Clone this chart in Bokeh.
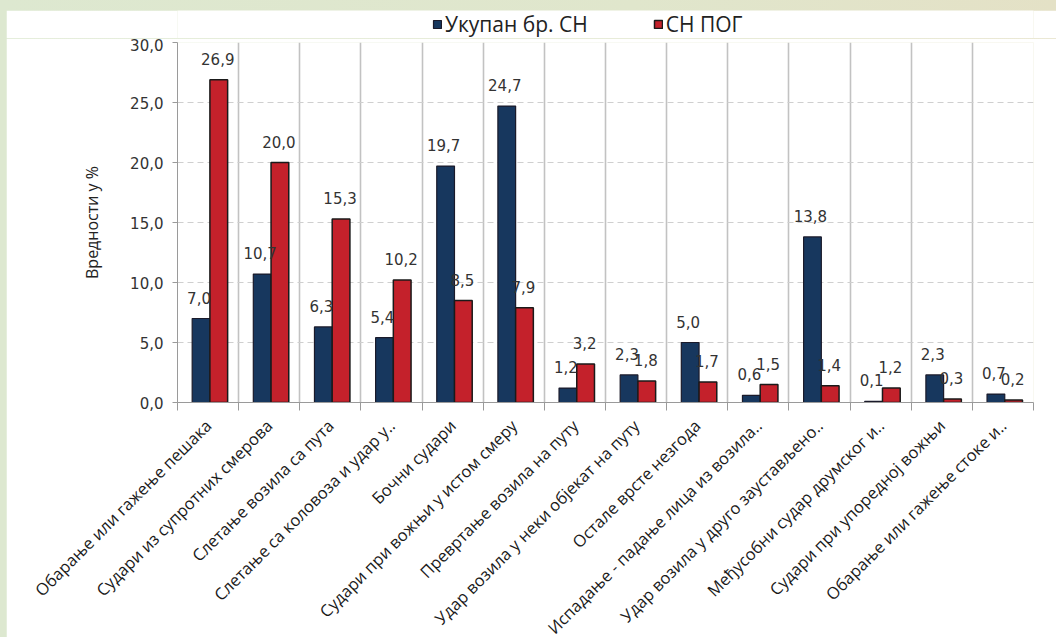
import numpy as np
from bokeh.plotting import figure
from bokeh.models import (ColumnDataSource, Range1d, FixedTicker, CustomJSTickFormatter,
                          Legend, LegendItem)
from bokeh.layouts import column
from bokeh.core.properties import value
from bokeh.embed import file_html
from bokeh.resources import INLINE

categories = [
    "Обарање или гажење пешака",
    "Судари из супротних смерова",
    "Слетање возила са пута",
    "Слетање са коловоза и удар у..",
    "Бочни судари",
    "Судари при вожњи у истом смеру",
    "Превртање возила на путу",
    "Удар возила у неки објекат на путу",
    "Остале врсте незгода",
    "Испадање - падање лица из возила..",
    "Удар возила у друго заустављено..",
    "Међусобни судар друмског и..",
    "Судари при упоредној вожњи",
    "Обарање или гажење стоке и..",
]
total_sn = [7.0, 10.7, 6.3, 5.4, 19.7, 24.7, 1.2, 2.3, 5.0, 0.6, 13.8, 0.1, 2.3, 0.7]
sn_pog = [26.9, 20.0, 15.3, 10.2, 8.5, 7.9, 3.2, 1.8, 1.7, 1.5, 1.4, 1.2, 0.3, 0.2]
series_names = ["Укупан бр. СН", "СН ПОГ"]
y_ticks = [0, 5, 10, 15, 20, 25, 30]

NAVY = "#17375e"
RED = "#c4212b"
n = len(categories)
centers = np.arange(n) + 0.5
bw = 0.29
shift = 0.03

def fmt(v):
    return f"{v:.1f}".replace(".", ",")

src_a = ColumnDataSource(dict(x=centers - bw / 2 + shift, top=total_sn,
                              lab=[fmt(v) for v in total_sn]))
src_b = ColumnDataSource(dict(x=centers + bw / 2 + shift, top=sn_pog,
                              lab=[fmt(v) for v in sn_pog]))

# ---- main chart ----
p = figure(frame_width=856, frame_height=360, output_backend="svg", toolbar_location=None,
           x_range=Range1d(0, n), y_range=Range1d(0, 30),
           min_border_left=171, min_border_right=23, min_border_top=4,
           min_border_bottom=235, background_fill_color="white",
           border_fill_color="white", outline_line_color=None,
           margin=(0, 0, 0, 6))

bar_a = dict(fill_color=NAVY, line_color="#1a1a2a", line_width=1.2)
bar_b = dict(fill_color=RED, line_color="#1a1a1a", line_width=1.5)
p.vbar(x="x", top="top", width=bw, source=src_a, **bar_a)
p.vbar(x="x", top="top", width=bw, source=src_b, **bar_b)

lab_font = value("DejaVu Sans")
p.text(x="x", y="top", text="lab", source=src_a, text_align="center",
       text_baseline="bottom", y_offset=-15, x_offset=-2, text_font=lab_font,
       text_font_size="15px", text_color="#333333")
p.text(x="x", y="top", text="lab", source=src_b, text_align="center",
       text_baseline="bottom", y_offset=-15, x_offset=-1, text_font=lab_font,
       text_font_size="15px", text_color="#333333")

xt = FixedTicker(ticks=list(centers), minor_ticks=list(range(n + 1)))
p.xaxis.ticker = xt
p.xgrid.ticker = xt
p.xgrid.grid_line_color = None
p.xgrid.minor_grid_line_color = "#c2c2c2"
p.xgrid.minor_grid_line_width = 1.6
p.xaxis.formatter = CustomJSTickFormatter(args=dict(labels=categories),
                                          code="return labels[Math.round(tick - 0.5)]")
p.xaxis.major_tick_out = 0
p.xaxis.major_tick_in = 0
p.xaxis.minor_tick_out = 8
p.xaxis.minor_tick_in = 0
p.xaxis.minor_tick_line_color = "#9a9a9a"
p.xaxis.axis_line_color = "#9a9a9a"
p.xaxis.major_label_orientation = np.pi / 4
p.xaxis.major_label_standoff = 12
p.xaxis.major_label_text_font = "Open Sans"
p.xaxis.major_label_text_font_size = "16.5px"
p.xaxis.major_label_text_color = "#1a1a1a"

p.yaxis.ticker = FixedTicker(ticks=y_ticks)
p.ygrid.ticker = FixedTicker(ticks=y_ticks)
p.yaxis.formatter = CustomJSTickFormatter(code="return tick.toFixed(1).replace('.', ',')")
p.ygrid.grid_line_color = "#cfcfcf"
p.ygrid.grid_line_dash = "6 4"
p.ygrid.grid_line_width = 1
p.yaxis.axis_line_color = "#9a9a9a"
p.yaxis.major_tick_line_color = "#9a9a9a"
p.yaxis.major_tick_out = 5
p.yaxis.major_tick_in = 0
p.yaxis.minor_tick_line_color = None
p.yaxis.major_label_standoff = 9
p.yaxis.major_label_text_font = "DejaVu Sans"
p.yaxis.major_label_text_font_size = "15px"
p.yaxis.major_label_text_color = "#333333"
p.yaxis.axis_label = "Вредности у %"
p.yaxis.axis_label_text_font = "Open Sans"
p.yaxis.axis_label_text_font_style = "normal"
p.yaxis.axis_label_text_font_size = "16px"
p.yaxis.axis_label_text_color = "#222222"
p.yaxis.axis_label_standoff = 24

# ---- legend strip above the chart (its renderers are hidden; only swatches show) ----
lg = figure(width=1050, height=28, output_backend="svg", toolbar_location=None,
            x_axis_type=None, y_axis_type=None,
            x_range=Range1d(0, n), y_range=Range1d(0, 30),
            min_border_left=0, min_border_right=0, min_border_top=0, min_border_bottom=0,
            background_fill_color="white", border_fill_color="white",
            outline_line_color=None, margin=(10, 0, 0, 6))
lg.xgrid.visible = False
lg.ygrid.visible = False
la = lg.vbar(x="x", top="top", width=bw, source=src_a, **bar_a)
lb = lg.vbar(x="x", top="top", width=bw, source=src_b, **bar_b)
la.visible = False
lb.visible = False
legend = Legend(items=[LegendItem(label=series_names[0], renderers=[la]),
                       LegendItem(label=series_names[1], renderers=[lb])],
                orientation="horizontal", location=(255, 0),
                background_fill_alpha=0, border_line_color=None,
                inactive_fill_alpha=0, click_policy="none",
                padding=0, margin=0, spacing=65, label_standoff=3,
                glyph_width=10, glyph_height=10, label_height=18,
                label_text_font="Open Sans", label_text_font_size="21px",
                label_text_color="#222222")
lg.add_layout(legend, "center")

root = column(lg, p, spacing=0,
              styles={"background": "linear-gradient(90deg, #dde8d0 0%, #e0e6cc 60%, #e4e1c6 100%)"})

open("out.html", "w").write(file_html(root, INLINE))
